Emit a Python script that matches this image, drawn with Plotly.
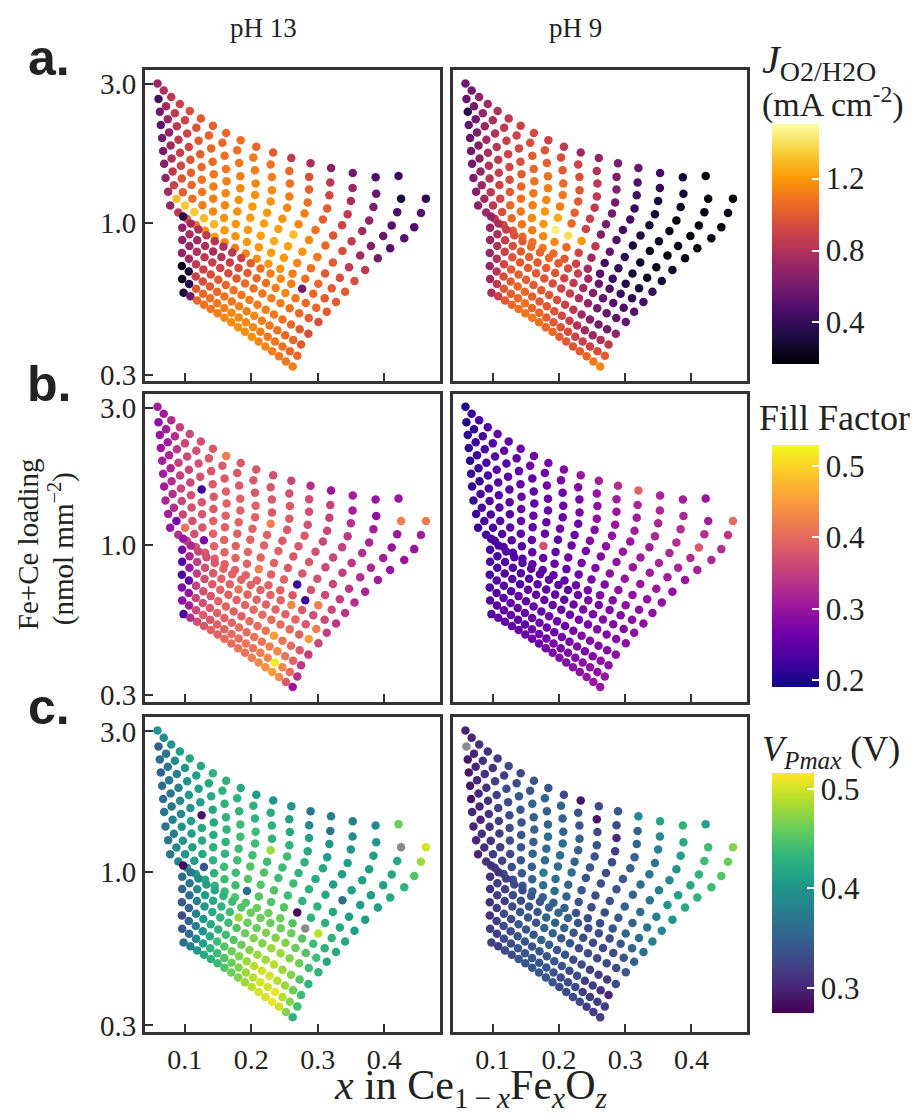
import plotly.graph_objects as go

# Fe fraction x, one list per printed row of the composition library
x_rows = [
    [.0588, .0682, .0795, .0925, .1074, .1241, .1422, .1622, .1840, .2075, .2329, .2602, .2892, .3200, .3527, .3871, .4216],
    [.0603, .0717, .0850, .1001, .1172, .1361, .1565, .1788, .2031, .2291, .2572, .2870, .3188, .3524, .3880, .4254, .4628],
    [.0623, .0743, .0880, .1035, .1207, .1396, .1598, .1818, .2055, .2309, .2581, .2869, .3175, .3498, .3838, .4196, .4553],
    [.0638, .0763, .0904, .1060, .1232, .1419, .1619, .1834, .2065, .2311, .2572, .2849, .3142, .3450, .3774, .4113, .4452],
    [.0658, .0786, .0928, .1083, .1252, .1435, .1628, .1835, .2057, .2291, .2539, .2801, .3077, .3366, .3669, .3985, .4302],
    [.0673, .0801, .0941, .1092, .1255, .1430, .1614, .1810, .2017, .2237, .2468, .2711, .2966, .3232, .3510, .3800, .4090],
    [.0688, .0816, .0953, .1101, .1259, .1427, .1603, .1789, .1985, .2191, .2407, .2633, .2869, .3116, .3372, .3639, .3905],
    [.0709, .0835, .0970, .1113, .1264, .1424, .1591, .1766, .1949, .2141, .2342, .2551, .2768, .2994, .3228, .3471, .3714],
    [.0749, .0873, .1004, .1142, .1287, .1440, .1597, .1762, .1934, .2113, .2298, .2491, .2691, .2898, .3111, .3332, .3553],
    [.0779, .0901, .1030, .1164, .1304, .1449, .1599, .1755, .1917, .2084, .2258, .2436, .2621, .2812, .3008, .3210, .3412],
    [.0975, .1087, .1204, .1325, .1450, .1580, .1713, .1850, .1992, .2138, .2288, .2443, .2602, .2765, .2932, .3104, .3276],
    [.0960, .1071, .1186, .1304, .1425, .1550, .1677, .1808, .1943, .2080, .2221, .2366, .2514, .2665, .2820, .2978, .3136],
    [.0960, .1069, .1181, .1296, .1413, .1533, .1655, .1779, .1906, .2035, .2167, .2302, .2439, .2578, .2721, .2865, .3010],
    [.0955, .1061, .1169, .1278, .1390, .1503, .1617, .1734, .1852, .1972, .2093, .2217, .2342, .2469, .2598, .2728, .2859],
    [.0955, .1059, .1164, .1270, .1377, .1486, .1595, .1706, .1817, .1930, .2044, .2159, .2275, .2392, .2510, .2630, .2749],
    [.0960, .1064, .1169, .1275, .1381, .1487, .1594, .1702, .1810, .1918, .2027, .2137, .2247, .2358, .2469, .2581, .2693],
    [.0980, .1083, .1185, .1288, .1391, .1493, .1596, .1699, .1802, .1904, .2007, .2110, .2212, .2315, .2418, .2520, .2623],
]
# Fe+Ce loading (nmol mm^-2)
load_rows = [
    [3.02, 2.856, 2.71, 2.565, 2.427, 2.286, 2.16, 2.037, 1.925, 1.826, 1.746, 1.67, 1.604, 1.545, 1.484, 1.436, 1.45],
    [2.667, 2.521, 2.384, 2.253, 2.125, 1.998, 1.885, 1.776, 1.677, 1.586, 1.508, 1.439, 1.376, 1.317, 1.259, 1.21, 1.211],
    [2.41, 2.275, 2.148, 2.03, 1.916, 1.804, 1.702, 1.607, 1.516, 1.437, 1.365, 1.302, 1.243, 1.189, 1.133, 1.088, 1.081],
    [2.173, 2.048, 1.93, 1.824, 1.723, 1.623, 1.533, 1.447, 1.366, 1.295, 1.231, 1.174, 1.12, 1.07, 1.019, .979, .966],
    [1.959, 1.846, 1.742, 1.647, 1.556, 1.47, 1.391, 1.316, 1.246, 1.183, 1.127, 1.076, 1.027, .981, .936, .9, .885],
    [1.766, 1.665, 1.571, 1.488, 1.407, 1.332, 1.263, 1.198, 1.137, 1.082, 1.033, .989, .945, .904, .864, .832, .817],
    [1.596, 1.502, 1.421, 1.348, 1.277, 1.211, 1.15, 1.093, 1.041, .994, .951, .911, .872, .835, .8, .771, .755],
    [1.426, 1.346, 1.275, 1.211, 1.149, 1.093, 1.039, .991, .944, .903, .865, .83, .795, .762, .73, .703, .687],
    [1.279, 1.209, 1.147, 1.09, 1.037, .988, .942, .899, .859, .823, .789, .757, .727, .697, .669, .646, .63],
    [1.146, 1.084, 1.032, .983, .938, .895, .856, .818, .784, .752, .723, .695, .668, .641, .616, .595, .579],
    [1.05, .995, .948, .905, .864, .826, .79, .756, .725, .696, .669, .642, .617, .593, .569, .549, .533],
    [.962, .913, .871, .832, .796, .762, .729, .699, .671, .644, .62, .596, .573, .55, .529, .51, .494],
    [.873, .832, .795, .761, .729, .698, .67, .643, .618, .594, .571, .549, .528, .508, .488, .47, .455],
    [.787, .752, .72, .69, .663, .636, .61, .586, .564, .542, .522, .502, .483, .464, .446, .43, .415],
    [.71, .68, .653, .627, .603, .579, .557, .536, .516, .496, .478, .46, .443, .426, .41, .395, .381],
    [.64, .615, .592, .57, .549, .528, .509, .49, .472, .454, .437, .421, .405, .39, .375, .361, .348],
    [.574, .558, .54, .522, .505, .488, .471, .454, .437, .421, .405, .39, .375, .361, .347, .333, .32],
]

# J_O2/H2O (mA cm^-2)
j_ph13 = [
    [.72, .8, .85, .9, .95, 1.0, 1.02, 1.05, 1.08, 1.05, 1.0, .85, .78, .68, .6, .47, .42],
    [.45, .75, .85, .9, .98, 1.02, 1.05, 1.08, 1.1, 1.08, 1.05, .95, .85, .72, .55, .3, .38],
    [.6, .72, .85, .92, 1.0, 1.05, 1.08, 1.1, 1.12, 1.12, 1.08, 1.02, .92, .78, .62, .48, .5],
    [.52, .7, .85, .92, 1.02, 1.06, 1.1, 1.12, 1.15, 1.15, 1.12, 1.08, 1.0, .85, .7, .5, .48],
    [.6, .75, .88, .98, 1.05, 1.1, 1.12, 1.15, 1.18, 1.18, 1.15, 1.12, 1.02, .9, .75, .55, .5],
    [.62, .8, .92, 1.02, 1.08, 1.12, 1.15, 1.18, 1.2, 1.2, 1.18, 1.15, 1.08, .98, .85, .65, .5],
    [.65, .85, .98, 1.05, 1.1, 1.12, 1.15, 1.18, 1.2, 1.22, 1.22, 1.3, 1.15, 1.05, .95, .75, .6],
    [.7, .9, 1.02, 1.08, 1.12, 1.15, 1.18, 1.2, 1.2, 1.22, 1.25, 1.22, 1.18, 1.1, 1.0, .85, .85],
    [.75, 1.3, 1.33, 1.33, 1.3, 1.28, 1.2, 1.18, 1.2, 1.2, 1.22, 1.2, 1.15, 1.08, 1.0, .95, .95],
    [.7, .85, .98, 1.1, 1.18, 1.22, 1.15, 1.12, 1.15, 1.18, 1.2, 1.18, 1.12, 1.08, 1.05, 1.0, 1.0],
    [.35, .75, .8, .85, .82, .8, .85, .9, 1.0, 1.08, 1.12, 1.15, 1.12, .6, 1.05, 1.0, 1.0],
    [.68, .78, .75, .8, .78, .82, .88, .95, 1.0, 1.05, 1.08, 1.12, 1.15, 1.1, 1.05, 1.05, 1.0],
    [.7, .72, .8, .85, .88, .9, .95, 1.0, 1.05, 1.08, 1.1, 1.12, 1.12, 1.08, 1.05, 1.0, .95],
    [.7, .75, .85, .9, .95, 1.0, 1.05, 1.08, 1.1, 1.12, 1.12, 1.12, 1.1, 1.08, 1.05, 1.0, .95],
    [.22, .3, .9, .95, 1.0, 1.05, 1.08, 1.1, 1.12, 1.12, 1.15, 1.12, 1.1, 1.08, 1.05, 1.05, 1.0],
    [.2, .35, 1.0, 1.05, 1.08, 1.1, 1.12, 1.15, 1.15, 1.15, 1.15, 1.12, 1.1, 1.1, 1.08, 1.05, 1.05],
    [.32, .6, 1.05, 1.08, 1.1, 1.12, 1.15, 1.15, 1.18, 1.18, 1.18, 1.15, 1.15, 1.12, 1.1, 1.1, 1.12],
]
j_ph9 = [
    [.6, .6, .7, .75, .8, .85, .9, .95, .9, .85, .75, .7, .62, .55, .45, .3, .2],
    [.55, .6, .7, .78, .85, .9, .95, .98, .95, .9, .8, .65, .5, .4, .3, .2, .18],
    [.35, .6, .72, .8, .88, .92, 1.0, 1.02, 1.0, .95, .85, .65, .45, .3, .22, .2, .2],
    [.55, .62, .75, .82, .9, .95, 1.05, 1.08, 1.05, .98, .85, .62, .42, .3, .2, .2, .2],
    [.58, .65, .78, .85, .92, 1.0, 1.08, 1.12, 1.1, 1.0, .85, .6, .45, .3, .22, .2, .2],
    [.6, .68, .8, .88, .95, 1.05, 1.1, 1.15, 1.12, 1.02, .88, .62, .45, .32, .25, .22, .2],
    [.6, .7, .82, .9, 1.0, 1.08, 1.12, 1.2, 1.25, 1.05, .9, .65, .48, .3, .22, .2, .2],
    [.62, .72, .85, .92, 1.05, 1.1, 1.15, 1.2, 1.45, 1.4, 1.2, .85, .55, .35, .25, .22, .25],
    [.65, .75, .85, .95, 1.05, 1.1, 1.12, 1.15, 1.15, 1.05, .92, .75, .45, .38, .3, .25, .3],
    [.68, .75, .85, .95, 1.0, 1.05, 1.08, 1.1, 1.05, 1.0, .9, .75, .5, .42, .35, .3, .4],
    [.7, .78, .88, .95, 1.0, 1.05, 1.05, 1.05, 1.0, .95, .88, .75, .55, .48, .42, .38, .45],
    [.72, .8, .88, .95, 1.0, 1.02, 1.0, 1.0, .98, .92, .85, .75, .65, .55, .5, .48, .5],
    [.72, .8, .9, .98, 1.0, 1.0, 1.0, .98, .95, .92, .88, .8, .7, .6, .55, .55, .55],
    [.72, .8, .92, 1.0, 1.02, 1.02, 1.0, 1.0, .98, .95, .9, .85, .75, .65, .6, .6, .7],
    [.72, .82, .95, 1.0, 1.05, 1.05, 1.02, 1.0, 1.0, .98, .92, .88, .8, .75, .72, .8, .85],
    [.75, .85, .98, 1.02, 1.05, 1.08, 1.05, 1.05, 1.02, 1.0, .98, .95, .9, .88, .9, .95, 1.0],
    [.78, .9, 1.0, 1.05, 1.08, 1.1, 1.1, 1.08, 1.05, 1.05, 1.02, 1.0, .98, 1.0, 1.05, 1.1, 1.15],
]
# Fill factor
ff_ph13 = [
    [.31, .31, .33, .35, .36, .37, .38, .42, .38, .38, .37, .36, .33, .30, .31, .30, .30],
    [.29, .31, .33, .36, .37, .38, .38, .38, .38, .38, .37, .37, .35, .31, .29, .42, .42],
    [.30, .31, .34, .36, .37, .38, .38, .38, .38, .38, .38, .37, .35, .33, .31, .30, .31],
    [.30, .32, .35, .36, .37, .38, .39, .39, .39, .38, .38, .37, .36, .34, .32, .30, .30],
    [.31, .32, .35, .36, .22, .38, .39, .39, .39, .42, .38, .38, .36, .35, .33, .31, .30],
    [.31, .33, .36, .37, .38, .38, .39, .39, .39, .39, .38, .38, .37, .36, .34, .32, .30],
    [.31, .33, .36, .37, .38, .39, .39, .39, .39, .39, .39, .38, .38, .36, .35, .33, .31],
    [.32, .33, .36, .37, .38, .39, .39, .39, .39, .39, .39, .38, .38, .37, .36, .34, .32],
    [.31, .27, .41, .37, .28, .39, .39, .39, .39, .42, .39, .39, .22, .37, .36, .35, .33],
    [.30, .33, .36, .37, .38, .39, .39, .39, .39, .39, .39, .39, .38, .22, .42, .36, .34],
    [.30, .32, .36, .37, .38, .39, .39, .39, .39, .39, .39, .39, .43, .38, .37, .36, .34],
    [.27, .32, .35, .37, .38, .39, .39, .41, .39, .39, .39, .39, .39, .39, .38, .42, .35],
    [.24, .30, .35, .37, .38, .39, .39, .39, .39, .40, .40, .40, .40, .40, .39, .45, .36],
    [.24, .25, .35, .37, .38, .39, .39, .39, .39, .40, .40, .41, .45, .41, .40, .38, .35],
    [.28, .30, .36, .37, .38, .39, .39, .39, .40, .40, .41, .41, .42, .43, .41, .39, .34],
    [.29, .31, .36, .38, .38, .39, .39, .40, .40, .41, .41, .42, .43, .52, .43, .40, .33],
    [.23, .33, .37, .38, .39, .39, .40, .40, .41, .41, .42, .43, .44, .45, .43, .38, .30],
]
ff_ph9 = [
    [.20, .22, .23, .24, .25, .25, .26, .26, .27, .28, .30, .31, .33, .39, .32, .31, .30],
    [.20, .21, .23, .24, .25, .25, .26, .26, .27, .28, .30, .31, .32, .32, .32, .31, .40],
    [.21, .22, .23, .24, .24, .25, .25, .26, .26, .27, .29, .30, .31, .32, .33, .33, .34],
    [.21, .22, .23, .24, .24, .25, .25, .26, .26, .27, .29, .30, .31, .32, .33, .38, .33],
    [.21, .22, .23, .24, .24, .25, .25, .25, .26, .26, .28, .29, .30, .31, .32, .33, .32],
    [.22, .22, .23, .24, .24, .25, .25, .25, .26, .26, .28, .29, .30, .31, .32, .32, .31],
    [.22, .23, .23, .24, .24, .25, .25, .25, .25, .26, .27, .28, .29, .30, .31, .31, .30],
    [.22, .23, .23, .24, .24, .25, .25, .37, .25, .26, .27, .28, .29, .30, .30, .30, .29],
    [.22, .23, .23, .24, .24, .24, .25, .25, .25, .25, .26, .27, .28, .29, .29, .29, .29],
    [.22, .23, .23, .24, .24, .24, .25, .25, .25, .25, .26, .27, .28, .28, .29, .29, .29],
    [.23, .23, .24, .24, .24, .24, .25, .25, .25, .25, .26, .27, .27, .28, .28, .29, .29],
    [.23, .23, .24, .24, .24, .24, .25, .25, .25, .25, .26, .27, .27, .28, .28, .28, .29],
    [.23, .23, .24, .24, .24, .25, .25, .25, .25, .26, .26, .27, .27, .28, .28, .28, .29],
    [.23, .24, .24, .24, .25, .25, .25, .25, .26, .26, .26, .27, .28, .28, .28, .28, .29],
    [.23, .24, .24, .25, .25, .25, .25, .26, .26, .26, .27, .27, .28, .28, .28, .29, .29],
    [.24, .24, .25, .25, .25, .25, .26, .26, .26, .27, .27, .28, .28, .29, .29, .29, .30],
    [.24, .25, .25, .25, .26, .26, .26, .26, .27, .27, .28, .28, .29, .29, .30, .30, .30],
]
# V_Pmax (V); None = no value (drawn grey)
v_ph13 = [
    [.40, .39, .40, .41, .42, .42, .43, .43, .42, .41, .40, .40, .37, .38, .38, .39, .46],
    [.35, .37, .39, .40, .41, .42, .43, .43, .43, .42, .41, .39, .37, .39, .40, None, .50],
    [.36, .37, .38, .40, .41, .42, .43, .43, .43, .43, .42, .41, .40, .40, .41, .42, .48],
    [.35, .37, .38, .40, .41, .42, .43, .44, .44, .43, .43, .42, .41, .41, .41, .42, .45],
    [.36, .37, .39, .40, .29, .42, .43, .44, .44, .48, .44, .43, .42, .41, .41, .41, .43],
    [.36, .37, .39, .41, .42, .42, .43, .44, .44, .44, .44, .43, .42, .41, .41, .41, .42],
    [.37, .38, .40, .41, .42, .43, .43, .44, .45, .45, .44, .44, .43, .42, .36, .41, .41],
    [.37, .38, .40, .41, .42, .43, .44, .44, .45, .45, .45, .44, .43, .43, .42, .41, .41],
    [.37, .39, .40, .41, .34, .43, .44, .44, .36, .45, .45, .45, .28, .43, .43, .42, .41],
    [.37, .38, .40, .41, .42, .43, .44, .45, .45, .46, .46, .46, .45, None, .49, .43, .42],
    [.28, .37, .39, .41, .42, .43, .44, .45, .46, .46, .46, .46, .46, .45, .44, .43, .42],
    [.36, .37, .39, .41, .42, .43, .44, .48, .46, .46, .47, .47, .47, .46, .45, .44, .42],
    [.35, .36, .38, .40, .42, .43, .44, .45, .46, .47, .47, .48, .48, .47, .46, .44, .43],
    [.34, .35, .38, .40, .42, .43, .44, .45, .46, .47, .48, .48, .49, .48, .47, .45, .43],
    [.33, .35, .38, .40, .42, .44, .45, .46, .47, .48, .49, .50, .50, .49, .48, .46, .44],
    [.34, .36, .39, .41, .43, .44, .45, .46, .47, .48, .49, .50, .50, .51, .49, .47, .44],
    [.36, .38, .40, .42, .43, .44, .45, .46, .47, .48, .49, .50, .50, .51, .50, .47, .43],
]
v_ph9 = [
    [.30, .30, .31, .31, .32, .33, .33, .34, .34, .33, .29, .33, .34, .39, .42, .43, .41],
    [None, .30, .31, .31, .32, .33, .34, .35, .35, .34, .29, .33, .35, .39, .42, .44, .47],
    [.29, .30, .31, .32, .33, .34, .35, .35, .35, .34, .33, .30, .35, .38, .41, .44, .46],
    [.29, .30, .31, .32, .33, .34, .35, .35, .35, .35, .34, .32, .35, .37, .40, .43, .45],
    [.29, .30, .31, .32, .33, .34, .35, .36, .36, .35, .34, .33, .35, .37, .39, .42, .44],
    [.29, .30, .31, .32, .33, .34, .35, .36, .36, .35, .34, .33, .34, .36, .38, .41, .43],
    [.30, .30, .31, .32, .33, .34, .35, .36, .36, .36, .34, .33, .34, .35, .37, .40, .42],
    [.30, .31, .31, .32, .33, .34, .35, .38, .36, .35, .34, .33, .34, .35, .36, .38, .40],
    [.30, .31, .32, .32, .33, .34, .35, .36, .36, .35, .34, .33, .33, .34, .35, .37, .39],
    [.30, .31, .32, .33, .33, .34, .35, .35, .35, .35, .34, .33, .33, .34, .35, .36, .38],
    [.31, .31, .32, .33, .33, .34, .34, .35, .35, .35, .34, .33, .33, .33, .34, .35, .36],
    [.31, .32, .32, .33, .33, .34, .34, .35, .35, .35, .34, .33, .33, .33, .33, .34, .35],
    [.31, .32, .32, .33, .34, .34, .34, .35, .35, .34, .34, .33, .33, .33, .33, .33, .34],
    [.31, .32, .33, .33, .34, .34, .34, .35, .35, .34, .34, .33, .33, .32, .32, .32, .33],
    [.31, .32, .33, .33, .34, .34, .34, .34, .34, .34, .34, .33, .33, .32, .32, .31, .30],
    [.32, .32, .33, .33, .34, .34, .34, .34, .34, .34, .33, .33, .33, .32, .32, .32, .32],
    [.32, .32, .33, .33, .34, .34, .34, .34, .34, .34, .33, .33, .33, .33, .32, .32, .32],
]

col_titles = ["pH 13", "pH 9"]
panel_letters = ["a.", "b.", "c."]
x_ticks = [0.1, 0.2, 0.3, 0.4]
y_ticks = [0.3, 1.0, 3.0]
y_ticktext = ["0.3", "1.0", "3.0"]

W, H = 920, 1120
SERIF = "Liberation Serif"
INK = "#222222"

xs = [v for row in x_rows for v in row]
ys = [v for row in load_rows for v in row]

panels = [[j_ph13, j_ph9], [ff_ph13, ff_ph9], [v_ph13, v_ph9]]
cscales = ["Inferno", "Plasma", "Viridis"]
cranges = [(0.17, 1.505), (0.19, 0.529), (0.275, 0.516)]
cticks = [[0.4, 0.8, 1.2], [0.2, 0.3, 0.4, 0.5], [0.3, 0.4, 0.5]]

col_px = [(137, 432), (445, 739)]
row_px = [(61, 375), (388, 699), (715, 1033)]
cbar_px = [(764, 47, 115, 358), (764, 47, 440, 685), (764, 42, 771, 1014)]

fig = go.Figure()
layout = {}
for i in range(3):
    for j in range(2):
        k = i * 2 + j + 1
        sfx = "" if k == 1 else str(k)
        ca = "coloraxis" if i == 0 else "coloraxis" + str(i + 1)
        vals = [v for row in panels[i][j] for v in row]
        gx = [a for a, v in zip(xs, vals) if v is None]
        gy = [b for b, v in zip(ys, vals) if v is None]
        px_ = [a for a, v in zip(xs, vals) if v is not None]
        py_ = [b for b, v in zip(ys, vals) if v is not None]
        pv = [v for v in vals if v is not None]
        fig.add_trace(go.Scatter(
            x=px_, y=py_, mode="markers",
            marker=dict(size=8.5, color=pv, coloraxis=ca, line=dict(width=0)),
            xaxis="x" + sfx, yaxis="y" + sfx, showlegend=False, hoverinfo="skip"))
        if gx:
            fig.add_trace(go.Scatter(
                x=gx, y=gy, mode="markers",
                marker=dict(size=8.5, color="#8a8a8a", line=dict(width=0)),
                xaxis="x" + sfx, yaxis="y" + sfx, showlegend=False, hoverinfo="skip"))
        x0, x1 = col_px[j]
        y0, y1 = row_px[i]
        layout["xaxis" + sfx] = dict(
            domain=[x0 / W, x1 / W], anchor="y" + sfx, range=[0.04, 0.484],
            tickvals=x_ticks, ticktext=[str(t) for t in x_ticks],
            showticklabels=(i == 2), ticks="inside", ticklen=8, tickwidth=2,
            tickcolor="#333", showline=True, mirror=True, linewidth=3,
            linecolor="#333", showgrid=False, zeroline=False,
            tickfont=dict(family=SERIF, size=28, color=INK))
        layout["yaxis" + sfx] = dict(
            domain=[1 - y1 / H, 1 - y0 / H], anchor="x" + sfx, type="log",
            range=[-0.545, 0.525], tickvals=y_ticks, ticktext=y_ticktext,
            showticklabels=(j == 0), ticks="inside" if j == 0 else "",
            ticklen=8, tickwidth=2, tickcolor="#333", showline=True,
            mirror=True, linewidth=3, linecolor="#333", showgrid=False,
            zeroline=False, tickfont=dict(family=SERIF, size=29, color=INK))
    cx, th, cy0, cy1 = cbar_px[i]
    name = "coloraxis" if i == 0 else "coloraxis" + str(i + 1)
    layout[name] = dict(
        colorscale=cscales[i], cmin=cranges[i][0], cmax=cranges[i][1],
        colorbar=dict(
            x=cx / W, xanchor="left", y=1 - cy0 / H, yanchor="top",
            len=(cy1 - cy0) / H, lenmode="fraction", thickness=th,
            thicknessmode="pixels", tickvals=cticks[i],
            ticks="inside", tickcolor="white", ticklen=7, tickwidth=2,
            outlinewidth=0, xpad=0, ypad=0,
            tickfont=dict(family=SERIF, size=31, color=INK)))


def note(text, xp, yp, size, family=SERIF, xanchor="center", angle=0):
    return dict(text=text, x=xp / W, y=1 - yp / H, xref="paper", yref="paper",
                xanchor=xanchor, yanchor="middle", showarrow=False,
                textangle=angle, font=dict(family=family, size=size, color=INK))


ann = []
for j, t in enumerate(col_titles):
    ann.append(note(t, [255, 567][j], 18, 27))
for i, t in enumerate(panel_letters):
    ann.append(note("<b>" + t + "</b>", 41, [49, 378, 705][i], 50,
                    family="Liberation Sans"))
ann.append(note("Fe+Ce loading", 20, 540, 29, angle=-90))
ann.append(note("(nmol mm<sup>\u22122</sup>)", 53, 545, 29, angle=-90))
ann.append(note("<i>x</i> in Ce<sub>1\u2009\u2212\u2009<i>x</i></sub>Fe<sub><i>x</i></sub>O<sub><i>z</i></sub>",
                462, 1090, 42))
ann.append(note("<i>J</i><sub>O2/H2O</sub>", 752, 53, 40, xanchor="left"))
ann.append(note("(mA cm<sup>-2</sup>)", 752, 94, 34, xanchor="left"))
ann.append(note("Fill Factor", 749, 412, 36, xanchor="left"))
ann.append(note("<i>V<sub>Pmax</sub></i> (V)", 752, 750, 36, xanchor="left"))

fig.update_layout(width=W, height=H, margin=dict(l=0, r=0, t=0, b=0),
                  paper_bgcolor="white", plot_bgcolor="white",
                  font=dict(family=SERIF, size=20, color=INK),
                  annotations=ann, **layout)
fig.write_html("out.html")
